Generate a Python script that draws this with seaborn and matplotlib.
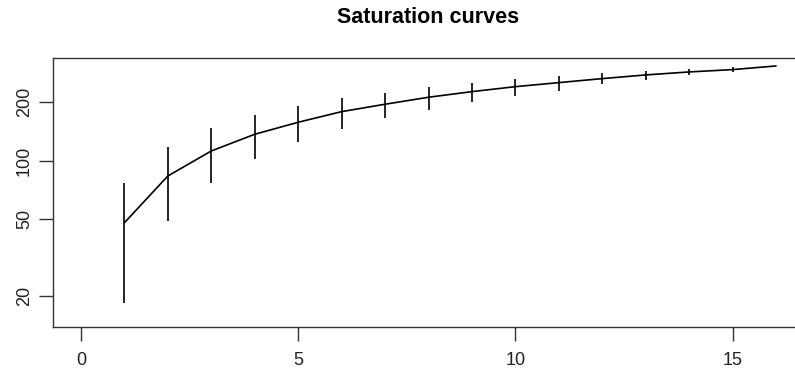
import pandas as pd
import seaborn as sns
import matplotlib.pyplot as plt
from matplotlib.ticker import FixedLocator, FixedFormatter, NullLocator

# Saturation curve: mean and error range per sampling effort
effort = [1, 2, 3, 4, 5, 6, 7, 8, 9, 10, 11, 12, 13, 14, 15, 16]
richness = [47.9, 83.4, 112.2, 136.8, 157.7, 178.9, 195.3, 212.2, 226.8,
            240.6, 252.4, 264.7, 276.5, 286.5, 294.5, 307.6]
lower = [18.4, 49.1, 77.0, 102.0, 124.8, 145.6, 166.6, 182.5, 200.0,
         215.6, 229.5, 248.5, 260.6, 275.5, 285.5, 307.6]
upper = [76.5, 117.3, 146.9, 171.4, 191.4, 209.7, 224.0, 238.9, 250.6,
         262.8, 273.3, 282.1, 290.1, 297.0, 303.0, 307.6]

x_ticks = [0, 5, 10, 15]
y_ticks = [20, 50, 100, 200]

df = pd.DataFrame({"effort": effort, "richness": richness,
                   "lower": lower, "upper": upper})

sns.set_style("ticks", {"text.color": "black", "xtick.color": "#333333",
                        "ytick.color": "#333333", "axes.labelcolor": "black"})
plt.rcParams['font.family'] = ['Liberation Sans', 'DejaVu Sans']

fig = plt.figure(figsize=(7.95, 3.73), dpi=100)
ax = fig.add_axes([53 / 795, 1 - 327 / 373, 1 - 53 / 795 + 0.01, (327 - 58) / 373])

sns.lineplot(data=df, x="effort", y="richness", color="black", linewidth=1.2, ax=ax)
ax.vlines(df["effort"], df["lower"], df["upper"], color="black", linewidth=1.2)

ax.set_yscale("log")
ax.set_xlim(-0.645, 16.62)
ax.set_ylim(13.9, 338)
ax.yaxis.set_major_locator(FixedLocator(y_ticks))
ax.yaxis.set_major_formatter(FixedFormatter([str(v) for v in y_ticks]))
ax.yaxis.set_minor_locator(NullLocator())
ax.set_xticks(x_ticks)
ax.set_xlabel("")
ax.set_ylabel("")

for side in ax.spines.values():
    side.set_color("#333333")
    side.set_linewidth(1.0)

ax.tick_params(axis="both", length=10, width=1.0, color="#333333",
               labelsize=13, labelcolor="#222222")
ax.tick_params(axis="x", pad=8)
ax.tick_params(axis="y", pad=4.5)
for lab in ax.get_yticklabels():
    lab.set_rotation(90)
    lab.set_va("center")

fig.suptitle("Saturation curves", x=428 / 795, y=1 - 7 / 373, va="top",
             fontsize=15.5, fontweight="bold", color="black")

fig.savefig("out.png", dpi=100)
